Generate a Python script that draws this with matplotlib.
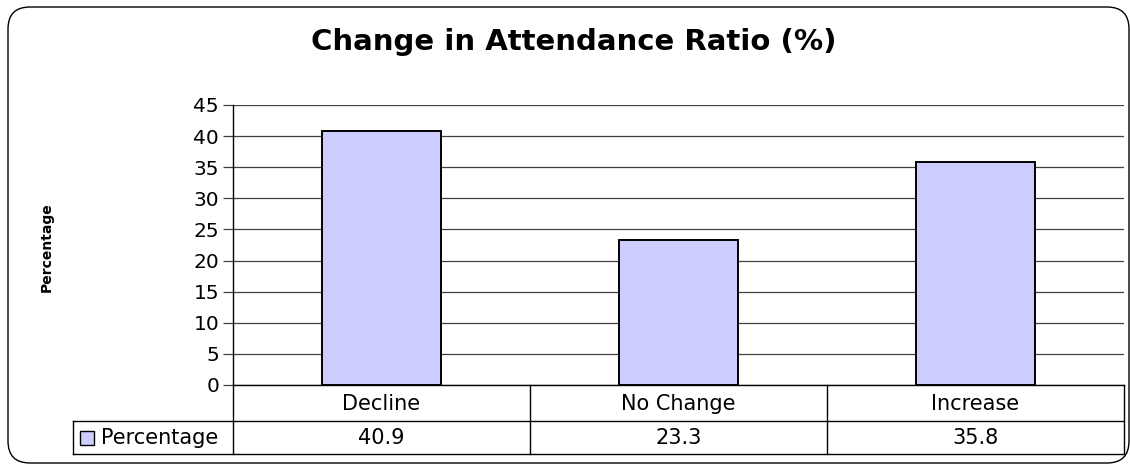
import matplotlib
matplotlib.use("Agg")
import matplotlib.pyplot as plt
from matplotlib.patches import FancyBboxPatch, Rectangle
from matplotlib.lines import Line2D

categories = ["Decline", "No Change", "Increase"]
values = [40.9, 23.3, 35.8]
value_labels = ["40.9", "23.3", "35.8"]
series_name = "Percentage"
yticks = [0, 5, 10, 15, 20, 25, 30, 35, 40, 45]

BAR = "#ccccff"
GRID = "#404040"
W, H = 1130, 466

plt.rcParams["font.family"] = ["DejaVu Sans"]
fig = plt.figure(figsize=(W / 100, H / 100), dpi=100)


def fx(px):
    return px / W


def fy(py):
    return 1 - py / H


# rounded outer frame, in inches so the corners stay round
frame = FancyBboxPatch((0.08, (H - 463) / 100), (1129 - 8) / 100, (463 - 7) / 100,
                       boxstyle="round,pad=0,rounding_size=0.22",
                       transform=fig.dpi_scale_trans, fill=False, ec="black", lw=1.0)
fig.patches.append(frame)

fig.text(fx(574), fy(50), "Change in Attendance Ratio (%)", ha="center", va="baseline",
         fontsize=21, fontweight="bold")

x0, x1, y0, y1 = 233, 1124, 385, 105
ax = fig.add_axes([fx(x0), fy(y0), (x1 - x0) / W, (y0 - y1) / H])
xs = range(len(categories))
ax.bar(xs, values, width=0.4, color=BAR, edgecolor="black", lw=1.4, zorder=3)
ax.set_xlim(-0.5, len(categories) - 0.5)
ax.set_ylim(0, 45)
ax.set_yticks(yticks)
ax.yaxis.grid(True, color=GRID, lw=0.9, zorder=0)
ax.tick_params(axis="y", length=7, width=0.9, color=GRID, labelsize=14.5, pad=3)
ax.tick_params(axis="x", length=0, labelbottom=False)
for s in ["top", "right", "bottom"]:
    ax.spines[s].set_visible(False)
ax.spines["left"].set_linewidth(1.0)

fig.text(fx(47), fy(247), "Percentage", rotation=90, ha="center", va="center",
         fontsize=10, fontweight="bold")

# data table under the chart
cell_w = (x1 - x0) / len(categories)
row1, row2, row3 = 385, 421, 454
tl = fig.transFigure
lines = [
    (x0, x1, row1, row1), (73, x1, row2, row2), (73, x1, row3, row3),
    (73, 73, row2, row3), (x0, x0, row1, row3),
]
for i in range(1, len(categories) + 1):
    xv = x0 + i * cell_w
    lines.append((xv, xv, row1, row3))
for a, b, c, d in lines:
    fig.add_artist(Line2D([fx(a), fx(b)], [fy(c), fy(d)], transform=tl, color="black", lw=1.0))

for i, (cat, lab) in enumerate(zip(categories, value_labels)):
    cx = x0 + (i + 0.5) * cell_w
    fig.text(fx(cx), fy((row1 + row2) / 2 + 1), cat, ha="center", va="center", fontsize=15)
    fig.text(fx(cx), fy((row2 + row3) / 2 + 1), lab, ha="center", va="center", fontsize=15)

fig.add_artist(Rectangle((fx(80), fy(445)), fx(14), 14 / H, transform=tl,
                         facecolor=BAR, edgecolor="black", lw=1.0))
fig.text(fx(101), fy((row2 + row3) / 2 + 1), series_name, ha="left", va="center", fontsize=15)

fig.savefig("out.png", dpi=100)
